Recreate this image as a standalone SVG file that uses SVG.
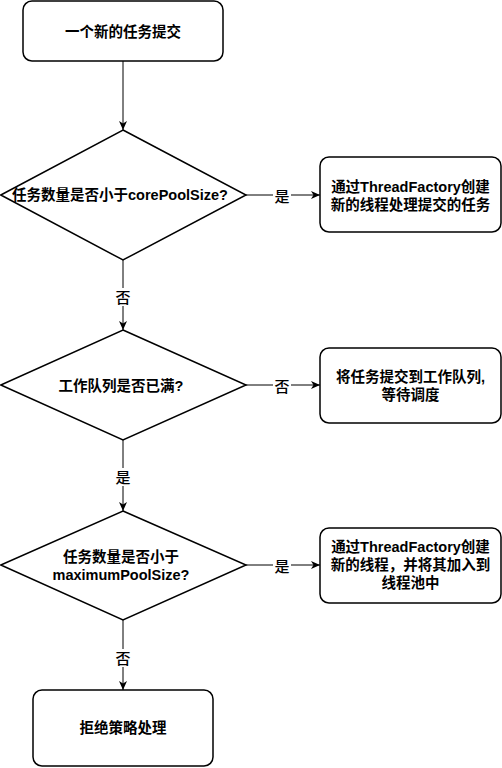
<svg xmlns="http://www.w3.org/2000/svg" width="502" height="768" viewBox="0 0 502 768">
<defs>
<style>
.box{fill:#fff;stroke:#000;stroke-width:1.5}
.t{font-family:"Liberation Sans","Noto Sans CJK SC",sans-serif;font-size:14.5px;font-weight:bold;fill:#000;text-anchor:middle;dominant-baseline:central}
.lbl{font-family:"Liberation Sans","Noto Sans CJK SC",sans-serif;font-size:15px;font-weight:500;fill:#000;text-anchor:middle;dominant-baseline:central}
.edge{stroke:#000;stroke-width:1;fill:none;marker-end:url(#arr)}
.bg{fill:#fff}
</style>
<marker id="arr" viewBox="0 0 10 10" refX="9" refY="5" markerWidth="10" markerHeight="10" markerUnits="userSpaceOnUse" orient="auto">
<path d="M0,1 L9,5 L0,9 L2.5,5 Z" fill="#000"/>
</marker>
</defs>
<rect width="502" height="768" fill="#fff"/>
<g id="connectors">
<path class="edge" d="M123,61 V130"/>
<path class="edge" d="M123,260 V330"/>
<path class="edge" d="M123,440 V511"/>
<path class="edge" d="M123,620 V690"/>
<path class="edge" d="M246,195 H320"/>
<path class="edge" d="M246,385 H320"/>
<path class="edge" d="M246,565 H320"/>
<rect class="bg" x="114" y="288" width="18" height="18"/>
<text class="lbl" x="123" y="297">否</text>
<rect class="bg" x="114" y="468" width="18" height="18"/>
<text class="lbl" x="123" y="477">是</text>
<rect class="bg" x="114" y="649" width="18" height="18"/>
<text class="lbl" x="123" y="658">否</text>
<rect class="bg" x="273" y="187" width="18" height="16"/>
<text class="lbl" x="282" y="196" font-weight="bold">是</text>
<rect class="bg" x="273" y="377" width="18" height="16"/>
<text class="lbl" x="282" y="386">否</text>
<rect class="bg" x="273" y="557" width="18" height="16"/>
<text class="lbl" x="282" y="566">是</text>
</g>
<g id="start">
<rect class="box" x="23" y="1" width="200" height="60" rx="9"/>
<text class="t" x="123" y="32">一个新的任务提交</text>
</g>
<g id="decision1">
<path class="box" d="M123,130 L246,195 L123,260 L0.8,195 Z"/>
<text class="t" x="120" y="195">任务数量是否小于corePoolSize?</text>
</g>
<g id="create1">
<rect class="box" x="320" y="157" width="181" height="75" rx="9"/>
<text class="t" x="410.5" y="187">通过ThreadFactory创建</text>
<text class="t" x="410.5" y="205">新的线程处理提交的任务</text>
</g>
<g id="decision2">
<path class="box" d="M123,330 L246,385 L123,440 L0.8,385 Z"/>
<text class="t" x="121" y="386">工作队列是否已满?</text>
</g>
<g id="queue">
<rect class="box" x="320" y="348" width="181" height="75" rx="9"/>
<text class="t" x="410.5" y="377">将任务提交到工作队列,</text>
<text class="t" x="410.5" y="395">等待调度</text>
</g>
<g id="decision3">
<path class="box" d="M123,511 L246,565 L123,620 L0.8,565 Z"/>
<text class="t" x="121" y="557">任务数量是否小于</text>
<text class="t" x="121" y="575">maximumPoolSize?</text>
</g>
<g id="create2">
<rect class="box" x="320" y="528" width="181" height="75" rx="9"/>
<text class="t" x="410.5" y="547">通过ThreadFactory创建</text>
<text class="t" x="410.5" y="565">新的线程，并将其加入到</text>
<text class="t" x="410.5" y="583">线程池中</text>
</g>
<g id="reject">
<rect class="box" x="33" y="690" width="180" height="76" rx="9"/>
<text class="t" x="123" y="728">拒绝策略处理</text>
</g>
</svg>
